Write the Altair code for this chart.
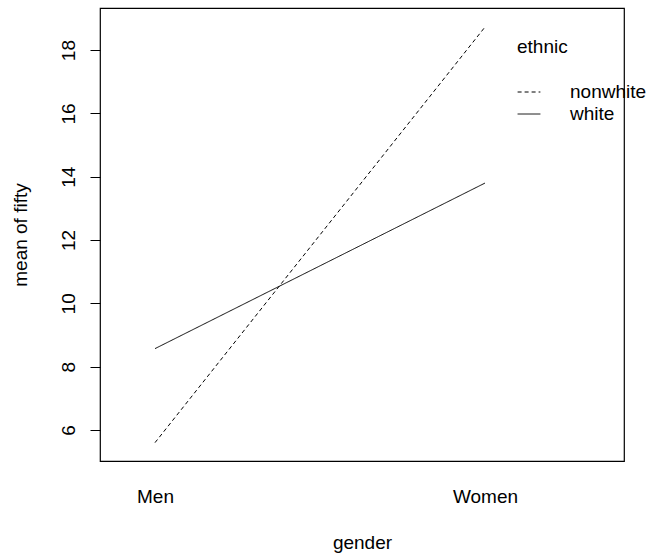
import altair as alt
import pandas as pd

genders = ["Men", "Women"]
gender_pos = [1, 2]
ethnic = ["nonwhite", "white"]
means_nonwhite = [5.6, 18.73]
means_white = [8.57, 13.8]

rows = []
for g, p, v in zip(genders, gender_pos, means_nonwhite):
    rows.append({"gender": g, "pos": p, "ethnic": "nonwhite", "mean": v})
for g, p, v in zip(genders, gender_pos, means_white):
    rows.append({"gender": g, "pos": p, "ethnic": "white", "mean": v})
df = pd.DataFrame(rows)

FONT = "Liberation Sans"
FS = 19

chart = alt.Chart(df).mark_line(color="black", strokeWidth=1).encode(
    x=alt.X("pos:Q",
            scale=alt.Scale(domain=[0.8333, 2.4212], nice=False, zero=False),
            axis=alt.Axis(values=[1, 2], labelExpr="datum.value == 1 ? 'Men' : 'Women'",
                          title="gender", ticks=False, domain=False, grid=False,
                          labelPadding=26, titlePadding=27, labelFontSize=FS, titleFontSize=FS,
                          labelFont=FONT, titleFont=FONT, labelColor="black", titleColor="black",
                          titleFontWeight="normal", labelBaseline="top")),
    y=alt.Y("mean:Q",
            scale=alt.Scale(domain=[5.02, 19.33], nice=False, zero=False),
            axis=alt.Axis(values=[6, 8, 10, 12, 14, 16, 18], title="mean of fifty",
                          domain=False, grid=False, tickSize=10, tickColor="black",
                          labelAngle=270, labelAlign="center", labelBaseline="bottom",
                          labelPadding=12, titlePadding=29, labelFontSize=FS, titleFontSize=FS,
                          labelFont=FONT, titleFont=FONT, labelColor="black", titleColor="black",
                          titleFontWeight="normal")),
    strokeDash=alt.StrokeDash("ethnic:N",
                              scale=alt.Scale(domain=ethnic, range=[[4, 3], [1, 0]]),
                              legend=alt.Legend(title="ethnic", orient="none", legendX=417, legendY=30,
                                                symbolType="stroke", symbolSize=520,
                                                symbolStrokeColor="black", symbolStrokeWidth=1,
                                                labelFontSize=FS, titleFontSize=FS, labelFont=FONT,
                                                titleFont=FONT, titleFontWeight="normal",
                                                labelColor="black", titleColor="black",
                                                titlePadding=23, rowPadding=-1, labelOffset=29)),
).properties(
    width=524, height=453,
    background="white",
    autosize=alt.AutoSizeParams(type="none"),
    padding={"left": 100, "top": 8, "right": 22, "bottom": 99},
).configure_view(stroke="black", strokeWidth=1.2)

chart.save("out.html", embed_options={"renderer": "svg", "actions": False})
